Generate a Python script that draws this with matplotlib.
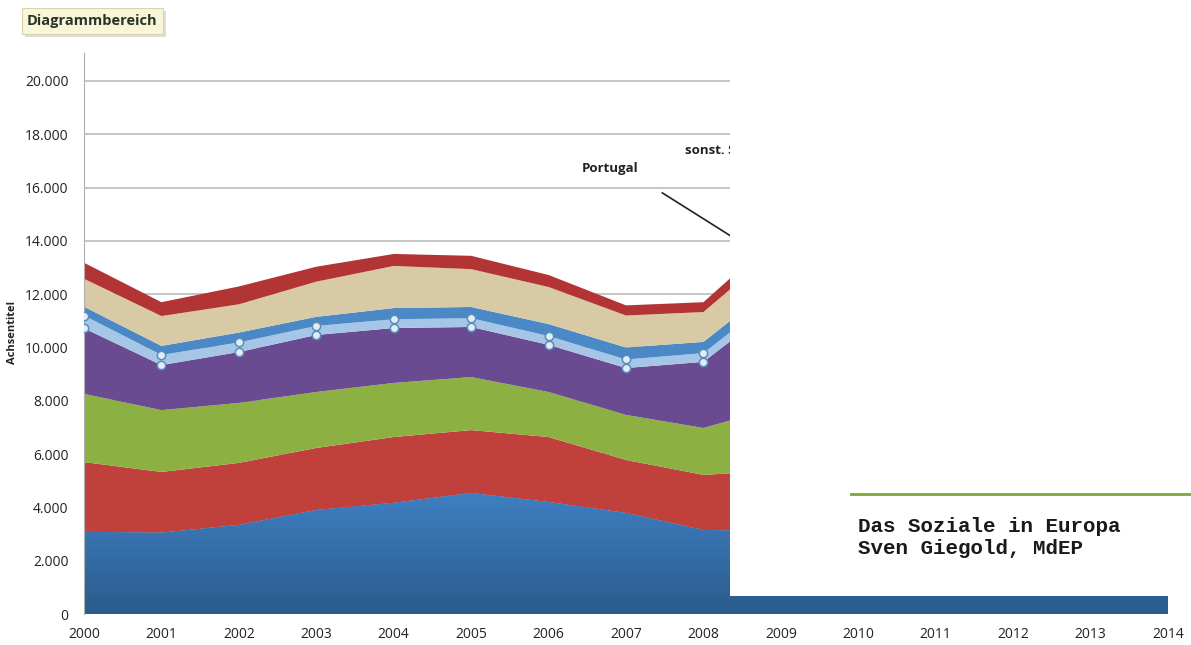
import numpy as np
import matplotlib
matplotlib.use("Agg")
import matplotlib.pyplot as plt
from matplotlib.patches import Rectangle

plt.rcParams['font.family'] = ['Open Sans', 'DejaVu Sans']

# stacked series, bottom to top (values per year)
years = [2000, 2001, 2002, 2003, 2004, 2005, 2006, 2007, 2008,
         2009, 2010, 2011, 2012, 2013, 2014]
s_blue = [3080, 3050, 3340, 3900, 4170, 4540, 4200, 3790, 3150,
          3100, 3050, 3000, 2950, 2900, 2850]
s_red = [2620, 2280, 2330, 2330, 2470, 2360, 2440, 1990, 2070,
         2300, 2350, 2300, 2250, 2200, 2200]
s_green = [2560, 2320, 2250, 2100, 2030, 1990, 1690, 1690, 1760,
           2400, 2450, 2400, 2350, 2300, 2300]
s_purple = [2460, 1690, 1910, 2140, 2060, 1880, 1770, 1760, 2480,
            3900, 3800, 3700, 3600, 3500, 3500]
s_lightblue = [480, 380, 360, 340, 330, 330, 330, 320, 330,
               350, 350, 350, 350, 350, 350]
s_midblue = [330, 340, 370, 340, 420, 420, 450, 450, 420,
             450, 450, 450, 450, 450, 450]
s_beige = [1050, 1120, 1060, 1320, 1580, 1420, 1390, 1200, 1120,
           1300, 1300, 1300, 1300, 1300, 1300]
s_darkred = [600, 520, 670, 560, 450, 500, 450, 380, 370,
             500, 500, 500, 500, 500, 500]

layers = [s_blue, s_red, s_green, s_purple, s_lightblue, s_midblue, s_beige, s_darkred]
colors = ['#3a78b8', '#c0413b', '#8db043', '#6a4b92', '#a6c6e7', '#4a88c6', '#d8caa4', '#b33434']
yticks = [0, 2000, 4000, 6000, 8000, 10000, 12000, 14000, 16000, 18000, 20000]
ytick_labels = ['0', '2.000', '4.000', '6.000', '8.000', '10.000', '12.000',
                '14.000', '16.000', '18.000', '20.000']

W, H = 1191, 645
fig = plt.figure(figsize=(W / 100, H / 100), dpi=100)
ax = fig.add_axes([84 / W, 31 / H, (1168 - 84) / W, (614 - 53) / H])

x = np.array(years)
polys = ax.stackplot(x, *layers, colors=colors, linewidth=0, zorder=2)

# vertical gradient on the bottom series, darker towards the axis
grad = np.linspace(0, 1, 256).reshape(-1, 1)
cmap = matplotlib.colors.LinearSegmentedColormap.from_list('g', ['#2b5b8c', '#3f7fc2'])
img = ax.imshow(grad, cmap=cmap, aspect='auto', extent=[2000, 2014, 0, max(s_blue)],
                origin='lower', zorder=2.5)
img.set_clip_path(polys[0].get_paths()[0], transform=ax.transData)

# selection handles on the light blue series
cum = np.cumsum(np.array(layers), axis=0)
for row in (cum[3], cum[4]):
    ax.plot(x, row, 'o', ms=6, mfc='#e2ecf6', mec='#5a8cbc', mew=1.1, zorder=4)

ax.set_xlim(2000, 2014)
ax.set_ylim(0, 21050)
ax.set_xticks(years)
ax.set_xticklabels([str(y) for y in years])
ax.set_yticks(yticks)
ax.set_yticklabels(ytick_labels)
ax.tick_params(length=0, labelsize=10, colors='#222222')
ax.tick_params(axis='y', pad=11)
ax.tick_params(axis='x', pad=9)
ax.grid(axis='y', color='#c0c0c0', lw=1.3)
ax.set_axisbelow(True)
for side in ('top', 'right', 'bottom'):
    ax.spines[side].set_visible(False)
ax.spines['left'].set_color('#b0b0b0')
fig.text(13 / W, 1 - 333 / H, 'Achsentitel', rotation=90, fontsize=8, fontweight='bold',
         color='#222222', ha='center', va='center')

# series labels
ax.text(2006.79, 16700, 'Portugal', fontsize=9.5, fontweight='bold', color='#222222',
        ha='center', va='center', zorder=5)
ax.text(2007.76, 17400, 'sonst. Staaten', fontsize=9.5, fontweight='bold', color='#222222',
        ha='left', va='center', zorder=5)
ax.plot([2007.47, 2009.0], [15800, 13000], color='#222222', lw=1.2, zorder=5)

# cover panel on the right
fig.add_artist(Rectangle((730 / W, 49 / H), (W - 730) / W, 1 - 49 / H,
                         transform=fig.transFigure, facecolor='white',
                         edgecolor='none', zorder=10))
fig.add_artist(plt.Line2D([851 / W, 1], [1 - 494 / H, 1 - 494 / H],
                          transform=fig.transFigure, color='#79a93a', lw=2, zorder=11))
fig.text(858 / W, 1 - 537 / H, 'Das Soziale in Europa\nSven Giegold, MdEP',
         family='Liberation Mono', fontweight='bold', fontsize=15,
         color='#1a1a1a', ha='left', va='center', linespacing=1.2, zorder=12)

# chart area tooltip
fig.add_artist(Rectangle((25 / W, 1 - 37 / H), 141 / W, 26 / H, transform=fig.transFigure,
                         facecolor='#c4c4bc', edgecolor='none', alpha=0.55, zorder=12))
fig.add_artist(Rectangle((22 / W, 1 - 34 / H), 141 / W, 26 / H, transform=fig.transFigure,
                         facecolor='#f8f6d6', edgecolor='#d6d4b0', lw=0.8, zorder=13))
fig.text(27 / W, 1 - 21 / H, 'Diagrammbereich', fontsize=10.5, fontweight='bold',
         color='#2a342a', ha='left', va='center', zorder=14)

fig.savefig('out.png', dpi=100)
